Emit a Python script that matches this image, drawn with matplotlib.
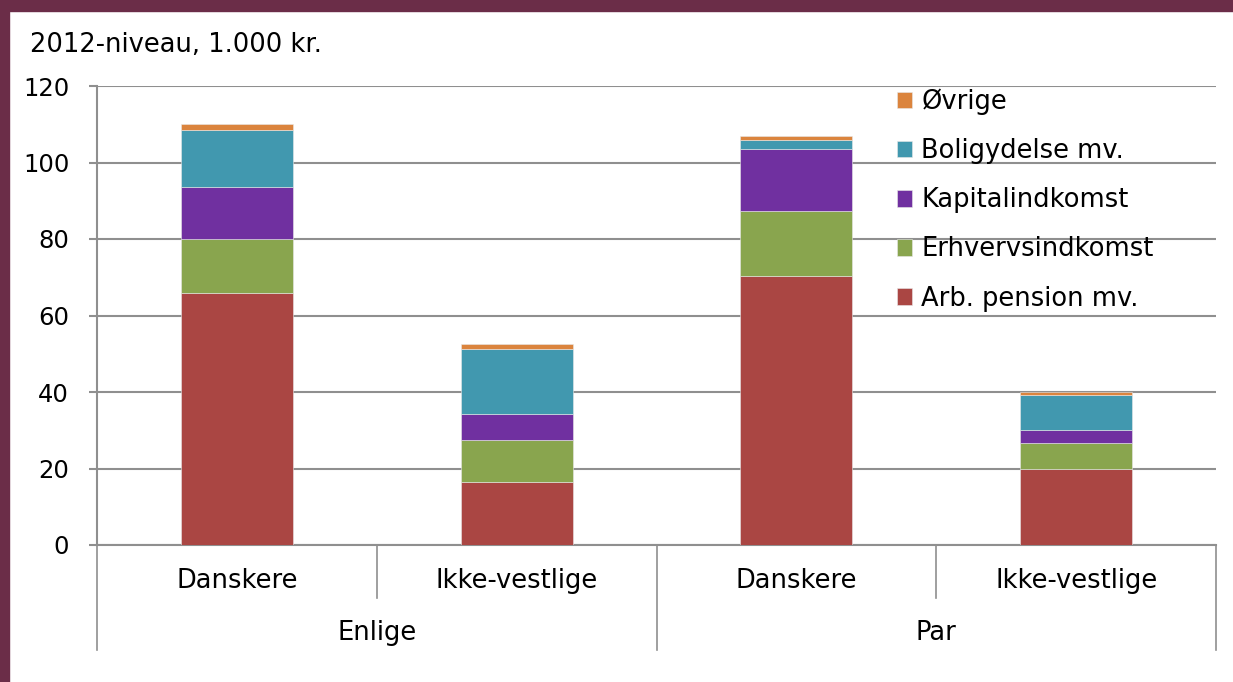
import numpy as np
import matplotlib.pyplot as plt
from matplotlib.patches import Rectangle
from matplotlib.transforms import blended_transform_factory

# data (1.000 kr., 2012-niveau)
groups      = ['Enlige', 'Par']
subcats     = ['Danskere', 'Ikke-vestlige', 'Danskere', 'Ikke-vestlige']
series      = ['Arb. pension mv.', 'Erhvervsindkomst', 'Kapitalindkomst', 'Boligydelse mv.', 'Øvrige']
arb_pension = [65.9, 16.6, 70.3, 19.9]
erhverv     = [14.1, 10.9, 17.0, 6.8]
kapital     = [13.7, 6.7, 16.3, 3.4]
boligydelse = [14.8, 17.1, 2.4, 9.0]
ovrige      = [1.5, 1.2, 1.0, 0.9]
colors      = ['#AA4643', '#89A54E', '#7030A0', '#4198AF', '#DB843D']

plt.rcParams['font.family'] = ['DejaVu Sans']
fs = 18.5

fig = plt.figure(figsize=(12.33, 6.82), dpi=100)
ax  = fig.add_axes([97/1233, 1-545/682, (1216-97)/1233, (545-86)/682])

x = np.arange(len(subcats))
bottom = np.zeros(len(subcats))
for vals, name, col in zip([arb_pension, erhverv, kapital, boligydelse, ovrige], series, colors):
	ax.bar(x, vals, 0.4, bottom=bottom, color=col, label=name, edgecolor='#e8e8e8', linewidth=0.4, zorder=3)
	bottom += np.array(vals)

ax.set_xlim(-0.5, 3.5)
ax.set_ylim(0, 120)
ax.set_yticks(range(0, 121, 20))
ax.yaxis.grid(True, color='#8f8f8f', linewidth=1.5, zorder=0)
ax.set_xticks([])
for s in ['top', 'right']:
	ax.spines[s].set_visible(False)
ax.spines['left'].set_color('#8f8f8f')
ax.spines['bottom'].set_color('#8f8f8f')
ax.spines['left'].set_linewidth(1.5)
ax.spines['bottom'].set_linewidth(1.5)
ax.tick_params(axis='y', length=6, width=1.5, color='#8f8f8f', labelsize=17.5, pad=14)

#category axis with two levels
trans = blended_transform_factory(ax.transData, ax.transAxes)
for i, lab in enumerate(subcats):
	ax.text(i, -0.078, lab, transform=trans, ha='center', va='center', fontsize=fs)
for i, lab in enumerate(groups):
	ax.text(2*i+0.5, -0.192, lab, transform=trans, ha='center', va='center', fontsize=fs)
for xs in [0.5, 2.5]:
	ax.plot([xs, xs], [0, -0.115], transform=trans, color='#8f8f8f', lw=1.2, clip_on=False)
for xs in [-0.5, 1.5, 3.5]:
	ax.plot([xs, xs], [0, -0.229], transform=trans, color='#8f8f8f', lw=1.2, clip_on=False)

h, l = ax.get_legend_handles_labels()
leg = fig.legend(h[::-1], l[::-1], loc='upper left', bbox_to_anchor=(876/1233, 1-68/682),
	frameon=False, fontsize=fs, handlelength=0.62, handleheight=0.62, handletextpad=0.35, labelspacing=0.9,
	borderpad=0.3)

fig.text(30/1233, 1-45/682, '2012-niveau, 1.000 kr.', fontsize=fs, va='center', ha='left')

#frame
fig.patches.append(Rectangle((0, 1-11/682), 1, 11/682, transform=fig.transFigure, color='#6B2D48', zorder=10))
fig.patches.append(Rectangle((0, 0), 9/1233, 1, transform=fig.transFigure, color='#6B2D48', zorder=10))

fig.savefig('out.png', dpi=100)
